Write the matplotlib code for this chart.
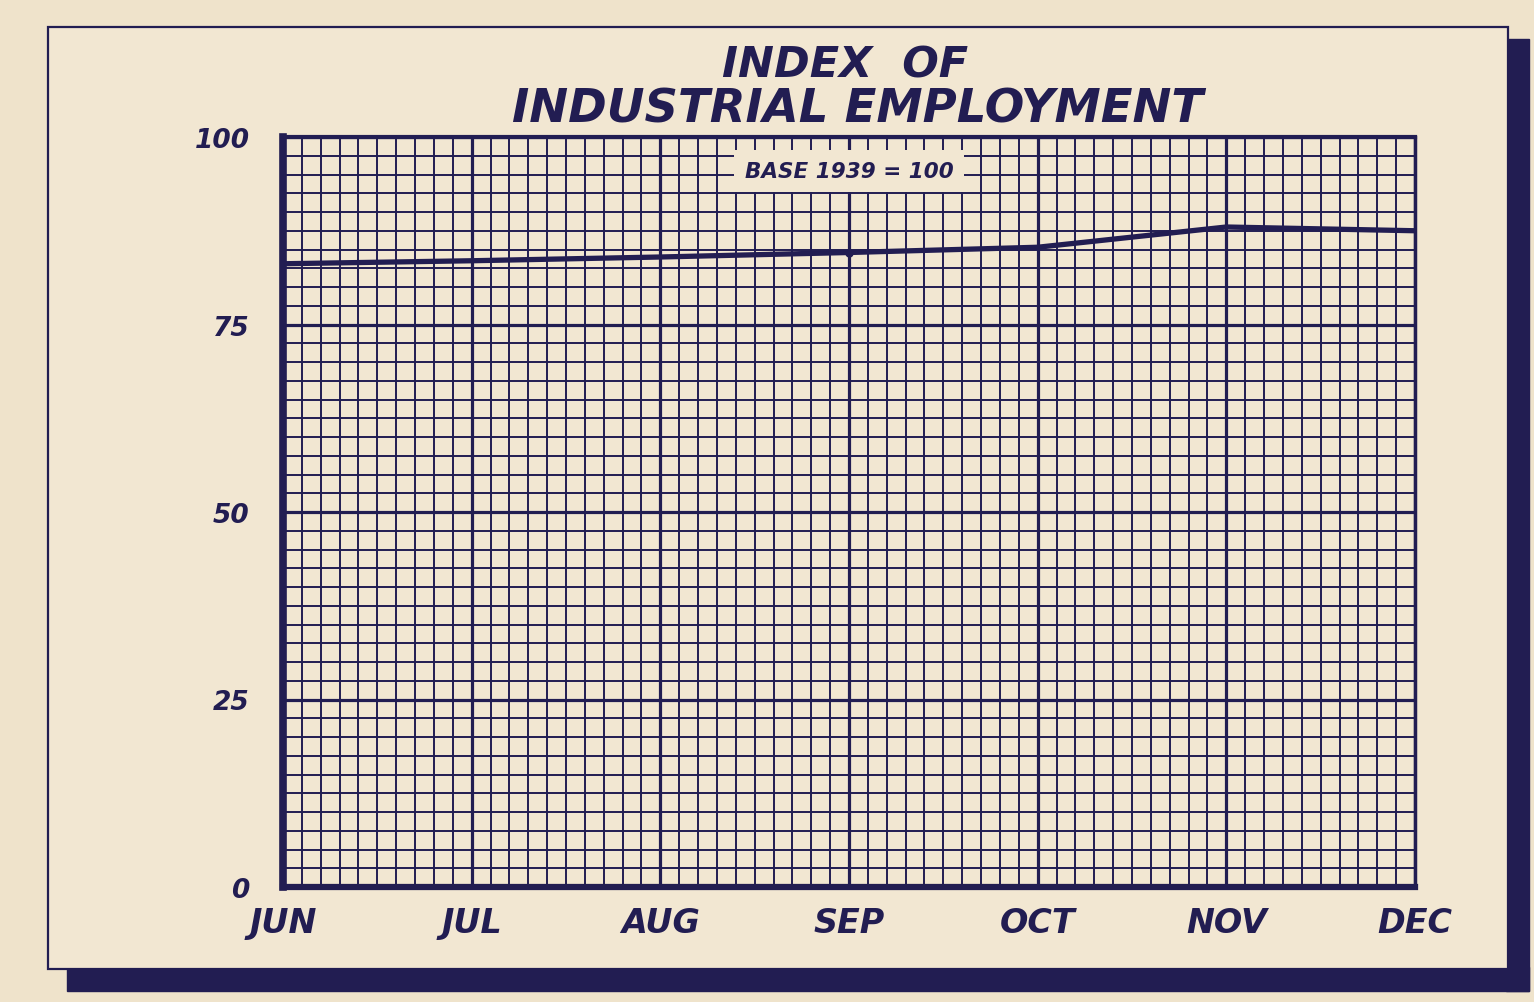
import numpy as np
import matplotlib
matplotlib.use('Agg')
from matplotlib import pyplot as plt
from matplotlib.patches import Rectangle

# chart values
months = ['JUN', 'JUL', 'AUG', 'SEP', 'OCT', 'NOV', 'DEC']
index_values = [83.1, 83.5, 84.0, 84.6, 85.3, 88.0, 87.5]
y_ticks = [0, 25, 50, 75, 100]

ink = '#221d52'
paper = '#f2e7d2'

W, H = 1534, 1003
fig = plt.figure(figsize=(W / 100, H / 100), dpi=100)
fig.patch.set_facecolor('#efe3cb')


def fx(px):
    return px / W


def fy(py):
    return 1 - py / H


# shadow strips and panel with thin border
fig.patches.append(Rectangle((fx(1506), fy(992)), fx(23), fy(40) - fy(992),
                             transform=fig.transFigure, color=ink, zorder=0))
fig.patches.append(Rectangle((fx(67), fy(992)), fx(1529 - 67), fy(968) - fy(992),
                             transform=fig.transFigure, color=ink, zorder=0))
fig.patches.append(Rectangle((fx(48), fy(970)), fx(1508 - 48), fy(28) - fy(970),
                             transform=fig.transFigure, facecolor=paper,
                             edgecolor=ink, linewidth=1.6, zorder=1))

ax = fig.add_axes([fx(283), fy(888), fx(1415 - 283), fy(138) - fy(888)])
ax.set_facecolor(paper)
ax.set_zorder(2)

x = np.arange(len(months))
ax.plot(x, index_values, color=ink, linewidth=3.8, solid_capstyle='butt', zorder=5)
ax.plot(x[3], index_values[3], 'o', color=ink, markersize=5, zorder=6)

ax.set_xlim(0, len(months) - 1)
ax.set_ylim(0, 100)

# fine grid like graph paper
ax.set_xticks(x)
ax.set_xticks(np.arange(0, len(months) - 1 + 0.001, 0.1), minor=True)
ax.set_yticks(y_ticks)
ax.set_yticks(np.arange(0, 100.01, 2.5), minor=True)
ax.grid(which='minor', color=ink, linewidth=1.4)
ax.grid(which='major', color=ink, linewidth=2.3)
ax.set_axisbelow(True)

ax.tick_params(which='both', length=0)
ax.set_xticklabels(months, fontsize=24, fontweight='heavy', style='italic', color=ink)
ax.set_yticklabels([str(v) for v in y_ticks], fontsize=19, fontweight='bold',
                   style='italic', color=ink)
ax.tick_params(axis='x', pad=14)
ax.tick_params(axis='y', pad=24)

for side, lw in [('left', 5.5), ('bottom', 4.5), ('top', 3), ('right', 2.5)]:
    ax.spines[side].set_color(ink)
    ax.spines[side].set_linewidth(lw)

ax.text(0.5, 0.955, 'BASE 1939 = 100', transform=ax.transAxes, ha='center', va='center',
        fontsize=15.5, fontweight='bold', style='italic', color=ink, zorder=7,
        bbox=dict(boxstyle='square,pad=0.5', facecolor=paper, edgecolor='none'))

fig.text(fx(845), fy(66), 'INDEX  OF', ha='center', va='center', fontsize=31,
         fontweight='heavy', style='italic', color=ink)
fig.text(fx(858), fy(110), 'INDUSTRIAL EMPLOYMENT', ha='center', va='center',
         fontsize=33.5, fontweight='heavy', style='italic', color=ink)

fig.savefig('out.png', dpi=100, facecolor=fig.get_facecolor())
